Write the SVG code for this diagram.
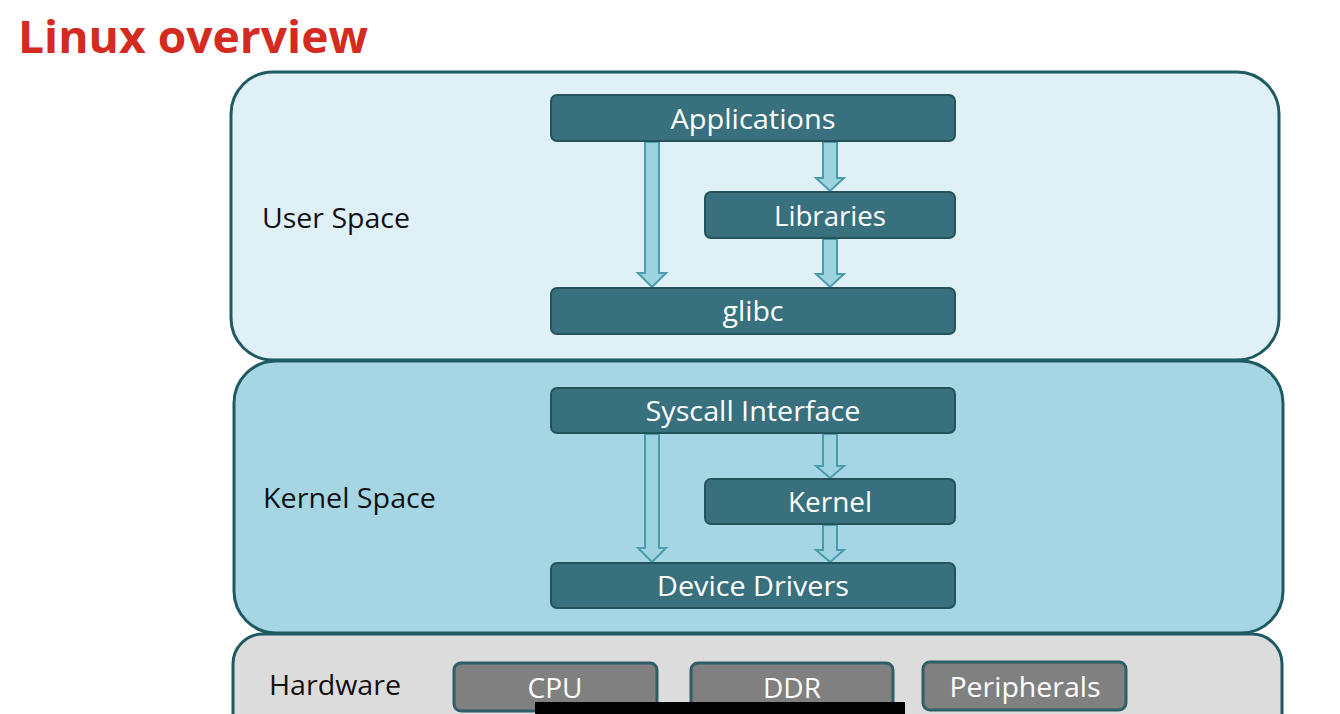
<svg xmlns="http://www.w3.org/2000/svg" width="1340" height="714" viewBox="0 0 1340 714">
<style>
.layer{stroke:#1f5a62;stroke-width:3}
.box{fill:#38707e;stroke:#24535c;stroke-width:2}
.hw{fill:#808080;stroke:#2f5f66;stroke-width:3}
.lbl{font-family:"Open Sans","Noto Sans",sans-serif;font-size:27px;fill:#ffffff;text-anchor:middle}
.side{font-family:"Open Sans","Noto Sans",sans-serif;font-size:27px;fill:#111111}
.arrow{fill:#9dd3e0;stroke:#4a9cad;stroke-width:2;stroke-linejoin:miter}
</style>
<rect width="1340" height="714" fill="#ffffff"/>
<text x="18" y="53" font-family="'Open Sans','Noto Sans',sans-serif" font-weight="bold" font-size="45" fill="#d42a20" textLength="350" lengthAdjust="spacingAndGlyphs">Linux overview</text>

<g id="hardware-space">
<rect class="layer" x="233" y="634" width="1049" height="140" rx="30" fill="#dcdcdc"/>
<text class="side" x="269" y="695" textLength="132" lengthAdjust="spacingAndGlyphs">Hardware</text>
</g>
<g id="kernel-space">
<rect class="layer" x="234" y="361" width="1049" height="272" rx="42" fill="#a6d6e4"/>
<text class="side" x="263" y="508" textLength="173" lengthAdjust="spacingAndGlyphs">Kernel Space</text>
</g>
<g id="user-space">
<rect class="layer" x="231" y="72" width="1048" height="288" rx="42" fill="#dff0f7"/>
<text class="side" x="262" y="228" textLength="148" lengthAdjust="spacingAndGlyphs">User Space</text>
</g>

<g id="connectors">
<path class="arrow" d="M645,142 L659,142 L659,273 L666,273 L652,287 L638,273 L645,273 Z"/>
<path class="arrow" d="M823,142 L837,142 L837,178 L844,178 L830,191 L816,178 L823,178 Z"/>
<path class="arrow" d="M823,239 L837,239 L837,274 L844,274 L830,287 L816,274 L823,274 Z"/>
<path class="arrow" d="M645,434 L659,434 L659,548 L666,548 L652,562 L638,548 L645,548 Z"/>
<path class="arrow" d="M823,434 L837,434 L837,466 L844,466 L830,478 L816,466 L823,466 Z"/>
<path class="arrow" d="M823,525 L837,525 L837,550 L844,550 L830,562 L816,550 L823,550 Z"/>
</g>

<g id="applications">
<rect class="box" x="551" y="95" width="404" height="46" rx="6"/>
<text class="lbl" x="753" y="129" textLength="165" lengthAdjust="spacingAndGlyphs">Applications</text>
</g>
<g id="libraries">
<rect class="box" x="705" y="192" width="250" height="46" rx="6"/>
<text class="lbl" x="830" y="226" textLength="112" lengthAdjust="spacingAndGlyphs">Libraries</text>
</g>
<g id="glibc">
<rect class="box" x="551" y="288" width="404" height="46" rx="6"/>
<text class="lbl" x="753" y="321" textLength="61" lengthAdjust="spacingAndGlyphs">glibc</text>
</g>
<g id="syscall-interface">
<rect class="box" x="551" y="388" width="404" height="45" rx="6"/>
<text class="lbl" x="753" y="421" textLength="215" lengthAdjust="spacingAndGlyphs">Syscall Interface</text>
</g>
<g id="kernel">
<rect class="box" x="705" y="479" width="250" height="45" rx="6"/>
<text class="lbl" x="830" y="512" textLength="84" lengthAdjust="spacingAndGlyphs">Kernel</text>
</g>
<g id="device-drivers">
<rect class="box" x="551" y="563" width="404" height="45" rx="6"/>
<text class="lbl" x="753" y="596" textLength="192" lengthAdjust="spacingAndGlyphs">Device Drivers</text>
</g>
<g id="cpu">
<rect class="hw" x="454" y="663" width="203" height="48" rx="7"/>
<text class="lbl" x="555" y="698" textLength="55" lengthAdjust="spacingAndGlyphs">CPU</text>
</g>
<g id="ddr">
<rect class="hw" x="691" y="663" width="202" height="48" rx="7"/>
<text class="lbl" x="792" y="698" textLength="58" lengthAdjust="spacingAndGlyphs">DDR</text>
</g>
<g id="peripherals">
<rect class="hw" x="923" y="662" width="203" height="48" rx="7"/>
<text class="lbl" x="1025" y="697" textLength="151" lengthAdjust="spacingAndGlyphs">Peripherals</text>
</g>
<rect x="535" y="702" width="370" height="12" fill="#000000"/>
</svg>
